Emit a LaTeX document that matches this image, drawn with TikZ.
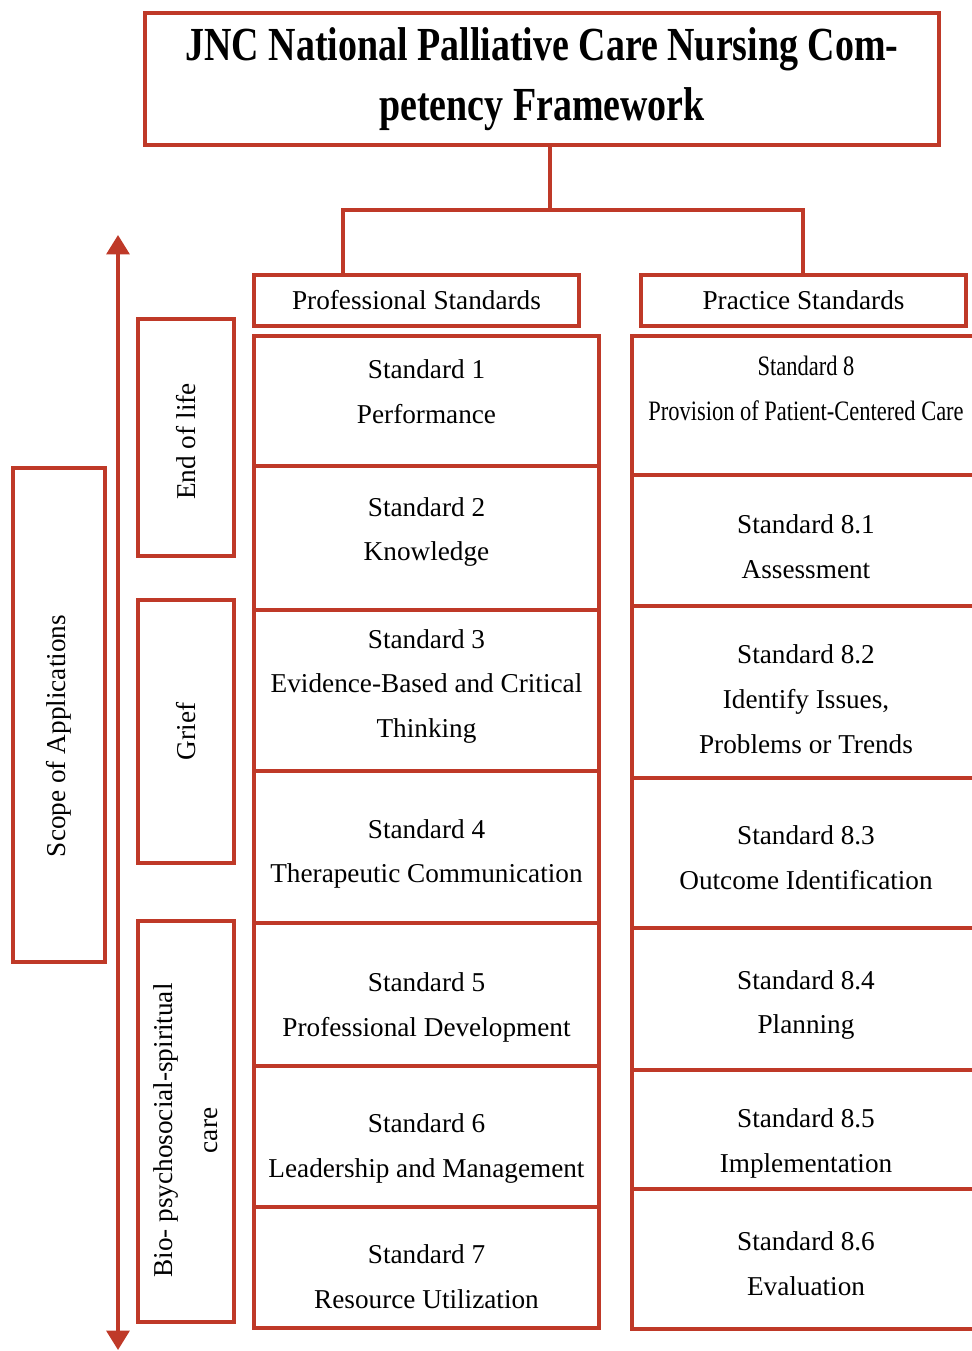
\documentclass[tikz,border=0pt]{standalone}
\usepackage{fontspec}
\setmainfont{Liberation Serif}
\newfontfamily\titlefont[FakeStretch=0.8]{Liberation Serif}
\newfontfamily\narrowfont[FakeStretch=0.8]{Liberation Serif}
\usetikzlibrary{arrows.meta,positioning}
\definecolor{jncred}{RGB}{191,57,40}
\tikzset{
    box/.style={rectangle, draw=jncred, line width=2.2pt, inner sep=0pt,
                outer sep=0pt, align=center,
                font=\fontsize{15.5}{25.5}\selectfont},
    txt/.style={inner sep=0pt, align=center, font=\fontsize{15.5}{25.5}\selectfont},
    narrowtxt/.style={txt, font=\narrowfont\fontsize{16}{25.5}\selectfont},
    % height, text shift, text
    stdbox/.style n args={3}{box, minimum width=6.9cm, minimum height=#1,
                label={[yshift=#2, txt]center:{#3}}},
    pracbox/.style n args={3}{box, minimum width=6.96cm, minimum height=#1,
                label={[yshift=#2, txt]center:{#3}}},
    sidebox/.style n args={3}{box, minimum width=1.92cm, minimum height=#1,
                label={[yshift=#2, txt, rotate=90]center:{#3}}},
    link/.style={draw=jncred, line width=2.2pt},
    scopearr/.style={{Triangle[length=11pt,width=13pt]}-{Triangle[length=11pt,width=13pt]},
                     draw=jncred, line width=2pt},
}
\begin{document}
\begin{tikzpicture}[x=0.02cm, y=-0.02cm]
    \useasboundingbox (0,0) rectangle (972,1351);

    % title and the two headings
    \node[box, minimum width=15.88cm, minimum height=2.64cm,
          font=\titlefont\bfseries\fontsize{27}{34}\selectfont] (title) at (542,79)
          {JNC National Palliative Care Nursing Com-\\petency Framework};
    \node[box, minimum width=6.5cm, minimum height=1.02cm] (prof) at (416.5,300.5) {Professional Standards};
    \node[box, minimum width=6.5cm, minimum height=1.02cm] (prac) at (803.5,300.5) {Practice Standards};

    \coordinate (fork)  at (550,210);
    \coordinate (forkL) at (343,210);
    \coordinate (forkR) at (803,210);
    \draw[link] (title.south -| fork) -- (fork);
    \draw[link] (prof.north -| forkL) -- (forkL) -- (forkR) -- (prac.north -| forkR);

    % professional standards
    \node[stdbox={2.6cm}{0.18cm}{Standard 1\\Performance}] (s1) at (426.5,401) {};
    \node[stdbox={2.88cm}{0.12cm}{Standard 2\\Knowledge}, below=0pt of s1] (s2) {};
    \node[stdbox={3.22cm}{0.08cm}{Standard 3\\Evidence-Based and Critical\\Thinking}, below=0pt of s2] (s3) {};
    \node[stdbox={3.04cm}{-0.14cm}{Standard 4\\Therapeutic Communication}, below=0pt of s3] (s4) {};
    \node[stdbox={2.86cm}{-0.26cm}{Standard 5\\Professional Development}, below=0pt of s4] (s5) {};
    \node[stdbox={2.82cm}{-0.24cm}{Standard 6\\Leadership and Management}, below=0pt of s5] (s6) {};
    \node[stdbox={2.42cm}{-0.18cm}{Standard 7\\Resource Utilization}, below=0pt of s6] (s7) {};

    % practice standards
    \node[box, minimum width=6.96cm, minimum height=2.78cm,
          label={[yshift=0.34cm, narrowtxt]center:{Standard 8\\Provision of Patient-Centered Care}}]
          (p8) at (806,405.5) {};
    \node[pracbox={2.62cm}{-0.12cm}{Standard 8.1\\Assessment}, below=0pt of p8] (p81) {};
    \node[pracbox={3.44cm}{-0.14cm}{Standard 8.2\\Identify Issues,\\Problems or Trends}, below=0pt of p81] (p82) {};
    \node[pracbox={3.0cm}{-0.1cm}{Standard 8.3\\Outcome Identification}, below=0pt of p82] (p83) {};
    \node[pracbox={2.84cm}{-0.12cm}{Standard 8.4\\Planning}, below=0pt of p83] (p84) {};
    \node[pracbox={2.38cm}{-0.28cm}{Standard 8.5\\Implementation}, below=0pt of p84] (p85) {};
    \node[pracbox={2.8cm}{-0.1cm}{Standard 8.6\\Evaluation}, below=0pt of p85] (p86) {};

    % scope of applications
    \node[sidebox={4.74cm}{-0.08cm}{End of life}] (eol) at (186,437.5) {};
    \node[sidebox={5.26cm}{0cm}{Grief}] (grief) at (186,731.5) {};
    \node[sidebox={8.02cm}{-0.18cm}{Bio- psychosocial-spiritual\\care}] (bio) at (186,1121.5) {};
    \node[box, minimum width=1.84cm, minimum height=9.88cm,
          label={[yshift=-0.42cm, txt, rotate=90]center:{Scope of Applications}}] (scope) at (59,715) {};

    \coordinate (arrtop) at (118,235);
    \coordinate (arrbot) at (118,1350);
    \draw[scopearr] (arrbot) -- (arrtop);
\end{tikzpicture}
\end{document}
